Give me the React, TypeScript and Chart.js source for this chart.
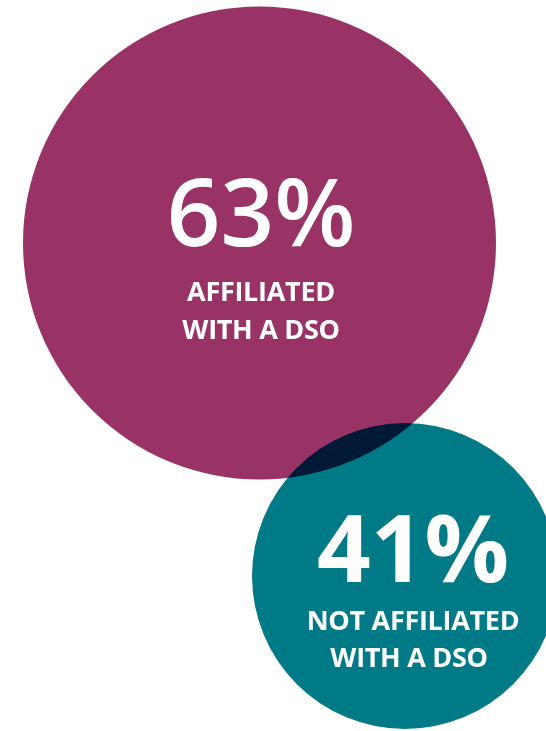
import React, { useEffect, useRef } from "react";
import { Chart, registerables } from "chart.js";

Chart.register(...registerables);

const categories = ["AFFILIATED WITH A DSO", "NOT AFFILIATED WITH A DSO"];
const percentValues = [63, 41];
const labelLines = [
  ["AFFILIATED", "WITH A DSO"],
  ["NOT AFFILIATED", "WITH A DSO"],
];
const centerX = [259.5, 405];
const centerY = [243, 576];
const radii = [236.5, 153];
const colors = ["#993366", "#007a87"];

const W = 546;
const H = 731;

const vennPlugin = {
  id: "vennText",
  beforeDatasetDraw(chart: any, args: any) {
    if (args.index === 1) {
      chart.ctx.save();
      chart.ctx.globalCompositeOperation = "multiply";
    }
  },
  afterDatasetDraw(chart: any, args: any) {
    if (args.index === 1) chart.ctx.restore();
  },
  afterDatasetsDraw(chart: any) {
    const ctx = chart.ctx;
    const offsets = [
      { dx: 1.5, big: -24, l1: 50, l2: 88, l2dx: 0, weight: "600" },
      { dx: 8, big: -21, l1: 46, l2: 83, l2dx: -4, weight: "bold" },
    ];
    chart.data.datasets.forEach((ds: any, i: number) => {
      const el = chart.getDatasetMeta(i).data[0];
      const o = offsets[i];
      ctx.save();
      ctx.fillStyle = "#ffffff";
      ctx.textAlign = "center";
      ctx.textBaseline = "middle";
      ctx.font = o.weight + " 94px 'Open Sans'";
      ctx.fillText(percentValues[i] + "%", el.x + o.dx, el.y + o.big);
      ctx.font = "bold 27px 'Open Sans'";
      (ctx as any).letterSpacing = "-0.3px";
      ctx.fillText(labelLines[i][0], el.x + o.dx, el.y + o.l1);
      ctx.fillText(labelLines[i][1], el.x + o.dx + o.l2dx, el.y + o.l2);
      ctx.restore();
    });
  },
};

export default function App() {
  const ref = useRef<HTMLCanvasElement>(null);
  useEffect(() => {
    document.body.style.margin = "0";
    const chart = new Chart(ref.current!, {
      type: "bubble",
      data: {
        datasets: categories.map((c, i) => ({
          label: c,
          data: [{ x: centerX[i], y: centerY[i], r: radii[i] }],
          backgroundColor: colors[i],
          borderWidth: 0,
          hoverBorderWidth: 0,
          order: 1 - i,
          clip: false as any,
        })),
      },
      options: {
        responsive: false,
        animation: false,
        events: [],
        layout: { padding: 0, autoPadding: false },
        plugins: { legend: { display: false }, tooltip: { enabled: false } },
        scales: {
          x: { type: "linear", min: 0, max: W, display: false },
          y: { type: "linear", min: 0, max: H, reverse: true, display: false },
        },
      },
      plugins: [vennPlugin],
    });
    return () => chart.destroy();
  }, []);
  return (
    <div style={{ width: W, height: H, background: "#ffffff" }}>
      <canvas ref={ref} width={W} height={H} />
    </div>
  );
}
